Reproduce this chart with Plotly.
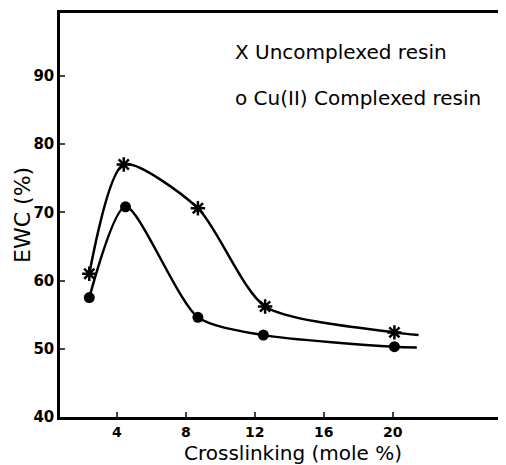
import plotly.graph_objects as go

# Data
x_uncomplexed = [2.4, 4.4, 8.7, 12.6, 20.1]
y_uncomplexed = [61.0, 77.0, 70.6, 56.2, 52.4]
x_complexed = [2.4, 4.5, 8.7, 12.5, 20.1]
y_complexed = [57.5, 70.8, 54.6, 52.0, 50.3]

# Curve tails beyond the last marker
tail_x_uncomplexed = [21.5]
tail_y_uncomplexed = [52.0]
tail_x_complexed = [21.4]
tail_y_complexed = [50.2]

x_ticks = [4, 8, 12, 16, 20]
y_ticks = [40, 50, 60, 70, 80, 90]

legend_labels = ["X Uncomplexed resin", "o Cu(II) Complexed resin"]
x_title = "Crosslinking (mole %)"
y_title = "EWC (%)"

FONT = "DejaVu Sans"

fig = go.Figure()

fig.add_trace(go.Scatter(
    x=x_uncomplexed + tail_x_uncomplexed,
    y=y_uncomplexed + tail_y_uncomplexed,
    mode="lines", line=dict(color="black", width=2.5, shape="spline", smoothing=0.7),
    showlegend=False, hoverinfo="skip"))
fig.add_trace(go.Scatter(
    x=x_complexed + tail_x_complexed,
    y=y_complexed + tail_y_complexed,
    mode="lines", line=dict(color="black", width=2.5, shape="spline", smoothing=0.7),
    showlegend=False, hoverinfo="skip"))
fig.add_trace(go.Scatter(
    x=x_uncomplexed, y=y_uncomplexed, mode="markers",
    marker=dict(symbol="asterisk-open", size=12, color="black", line=dict(color="black", width=2.5)),
    name=legend_labels[0], showlegend=False))
fig.add_trace(go.Scatter(
    x=x_complexed, y=y_complexed, mode="markers",
    marker=dict(symbol="circle", size=11, color="black"),
    name=legend_labels[1], showlegend=False))

fig.add_annotation(x=0.39, y=0.903, xref="paper", yref="paper", xanchor="left", yanchor="middle",
                   text=legend_labels[0], showarrow=False, font=dict(family=FONT, size=20, color="black"))
fig.add_annotation(x=0.39, y=0.79, xref="paper", yref="paper", xanchor="left", yanchor="middle",
                   text=legend_labels[1], showarrow=False, font=dict(family=FONT, size=20, color="black"))
fig.add_annotation(x=0.527, y=-0.089, xref="paper", yref="paper", xanchor="center", yanchor="middle",
                   text=x_title, showarrow=False, font=dict(family=FONT, size=20, color="black"))
fig.add_annotation(x=-0.086, y=0.5, xref="paper", yref="paper", xanchor="center", yanchor="middle",
                   text=y_title, textangle=-90, showarrow=False,
                   font=dict(family=FONT, size=22, color="black"))

# The page body adds an 8 px offset, so the figure is sized to fit inside the window
fig.update_layout(
    width=498, height=457,
    margin=dict(l=52, r=3, t=5, b=48),
    paper_bgcolor="white", plot_bgcolor="white",
    font=dict(family=FONT, color="black"),
    xaxis=dict(range=[0.7, 26.4], tickvals=x_ticks, ticks="inside", ticklen=5, tickwidth=2,
               showline=True, linewidth=2.5, linecolor="black", mirror=True, showgrid=False, zeroline=False,
               tickfont=dict(size=14, family=FONT, weight="bold"), automargin=False),
    yaxis=dict(range=[40, 99.2], tickvals=y_ticks, ticks="inside", ticklen=5, tickwidth=2,
               showline=True, linewidth=2.5, linecolor="black", mirror=True, showgrid=False, zeroline=False,
               tickfont=dict(size=15, family=FONT, weight="bold"), automargin=False),
)

fig.write_html("out.html")
